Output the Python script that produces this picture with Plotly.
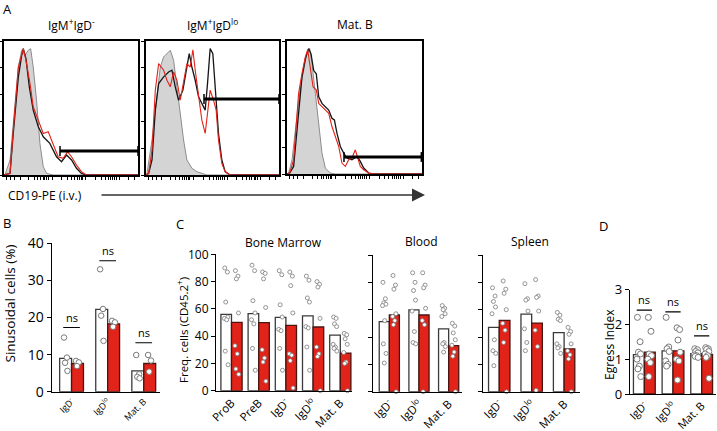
import plotly.graph_objects as go
import numpy as np

W, H = 717, 431
FONT = "Open Sans"
RED = "#e2231a"
DOTLINE = "#7a7a7a"

# ---------------- Panel A histogram data (x: % of axis, y: % of max) -------------
a1_gray_x = [0, 0.7, 4.5, 8.2, 10.7, 13.2, 15.6, 18.1, 19.9, 21.8, 24.3, 26.8, 29.3, 31.8, 36.7, 100]
a1_gray_y = [0, 0, 11.2, 55.8, 80.6, 93.1, 89.3, 93.1, 94.3, 80.6, 55.8, 23.6, 6.2, 1.2, 0, 0]
a1_black_x = [0, 4.5, 6.9, 10.7, 13.2, 14.4, 16.4, 18.9, 21.8, 25.6, 29.3, 34.2, 39.2, 42.9, 46.7, 50.4, 54.1, 57.8, 61.5, 100]
a1_black_y = [0, 1.2, 31.0, 73.2, 89.3, 94.3, 86.8, 65.8, 48.4, 36.0, 28.5, 23.6, 13.6, 9.9, 14.9, 11.2, 5.0, 1.2, 0, 0]
a1_red_x = [0, 4.5, 6.9, 10.7, 14.4, 16.4, 19.4, 21.8, 25.6, 29.3, 33.0, 36.7, 40.4, 44.2, 47.4, 50.4, 54.1, 57.8, 61.5, 100]
a1_red_y = [0, 1.2, 33.5, 80.6, 94.3, 85.6, 68.2, 50.9, 40.9, 31.0, 32.3, 23.6, 13.6, 12.4, 17.4, 13.6, 7.4, 2.5, 0, 0]

a2_gray_x = [0, 0.75, 4.5, 8.25, 10.75, 13.25, 15.75, 18.25, 20.75, 23.25, 25.75, 28.25, 30.75, 34.5, 38.25, 42, 45.75, 100]
a2_gray_y = [0, 1.2, 26.1, 60.8, 80.6, 88.1, 90.6, 93.1, 85.6, 65.8, 43.4, 26.1, 11.2, 5.0, 2.5, 1.2, 0, 0]
a2_black_x = [0, 2, 4.5, 7, 9.5, 13.25, 17, 19.5, 22, 24.5, 27.75, 30.75, 32.5, 34.5, 37, 39.5, 42, 44.5, 46.25, 48.25, 50.25, 52, 54.5, 57, 59.5, 63.25, 100]
a2_black_y = [0, 1.2, 11.2, 48.4, 68.2, 73.2, 76.9, 78.2, 65.8, 55.8, 63.3, 80.6, 90.6, 80.6, 70.7, 58.3, 53.3, 48.4, 68.2, 94.3, 90.6, 68.2, 31.0, 11.2, 2.5, 0, 0]
a2_red_x = [0, 2, 4.5, 7, 9.5, 13.25, 15.75, 18.25, 20.75, 23.25, 25.75, 28.25, 30.75, 33.25, 35.25, 37, 39.5, 42, 44.5, 46.25, 48.25, 50.75, 52.75, 54.5, 57, 59.5, 63.25, 100]
a2_red_y = [0, 1.2, 18.6, 63.3, 83.1, 78.2, 70.7, 65.8, 76.9, 70.7, 55.8, 68.2, 83.1, 80.6, 93.5, 78.2, 58.3, 40.9, 31.0, 48.4, 63.3, 55.8, 48.4, 26.1, 8.7, 2.5, 0, 0]

a3_gray_x = [0, 1.2, 3.7, 7.4, 9.9, 12.3, 14.8, 16.8, 18.5, 21.0, 23.5, 25.9, 28.4, 32.1, 35.8, 100]
a3_gray_y = [0, 0.7, 10.7, 43.1, 65.6, 78.1, 90.5, 94.3, 83.0, 60.6, 35.7, 15.7, 4.5, 0.7, 0, 0]
a3_black_x = [0, 2.0, 4.9, 8.6, 11.1, 13.6, 16.0, 17.8, 19.8, 21.7, 23.5, 25.9, 28.4, 30.9, 33.3, 35.1, 37.0, 39.5, 42.0, 44.4, 48.1, 51.9, 54.3, 56.8, 60.5, 64.2, 100]
a3_black_y = [0, 0.7, 5.7, 43.1, 73.1, 86.8, 94.3, 90.3, 77.8, 75.3, 58.1, 53.1, 50.6, 48.1, 41.9, 40.6, 30.7, 20.7, 15.7, 12.0, 10.7, 13.2, 9.5, 4.5, 0.7, 0, 0]
a3_red_x = [0, 2.0, 4.9, 8.6, 11.1, 13.6, 15.3, 17.3, 19.3, 21.7, 23.5, 25.9, 28.4, 30.9, 33.3, 35.8, 38.3, 40.7, 43.2, 45.7, 48.1, 50.6, 52.3, 54.3, 56.8, 60.5, 64.2, 100]
a3_red_y = [0, 0.7, 10.7, 60.6, 75.6, 88.0, 93.5, 80.5, 65.6, 63.1, 53.1, 50.6, 48.1, 45.6, 35.7, 28.2, 20.7, 8.2, 5.7, 10.7, 12.0, 18.2, 13.2, 5.7, 3.2, 0.7, 0, 0]

# gates: [start %, end %, level %]
a1_gate = [41.8, 100, 17.9]
a2_gate = [43.6, 100, 56.7]
a3_gate = [42.2, 99.5, 12.8]

a_titles = ["IgM<sup>+</sup>IgD<sup>-</sup>", "IgM<sup>+</sup>IgD<sup>lo</sup>", "Mat. B"]

# ---------------- Panel B ----------------
b_cats = ["IgD<sup>-</sup>", "IgD<sup>lo</sup>", "Mat. B"]
b_white = [9.0, 22.2, 5.6]
b_red = [7.6, 18.3, 7.6]
b_white_pts = [[14.6, 9.2, 7.8, 5.6], [33.0, 22.3, 20.5, 13.7], [9.9, 4.7, 4.0, 3.6]]
b_red_pts = [[8.3, 7.9, 6.9], [19.1, 18.7, 17.5], [9.9, 8.4, 5.4]]
b_ns = [17.3, 35.3, 13.2]

# ---------------- Panel C ----------------
bm_cats = ["ProB", "PreB", "IgD<sup>-</sup>", "IgD<sup>lo</sup>", "Mat. B"]
bm_white = [56.0, 56.5, 53.8, 54.8, 40.8]
bm_red = [50.1, 49.9, 47.9, 46.7, 27.6]
bm_white_pts = [[90, 87, 65, 54, 53, 52, 29, 19], [92, 88, 66, 57, 52, 49, 31, 15],
                [88, 85, 63, 54, 45, 44, 31, 15], [84, 81, 68, 65, 47, 46, 32, 15],
                [54, 53, 49, 47, 34, 32, 31, 29]]
bm_red_pts = [[88, 84, 82, 57, 33, 27, 16, 12], [87, 86, 82, 61, 30, 24, 21, 7],
              [87, 84, 77, 57, 27, 26, 22, 2], [80, 78, 76, 53, 32, 27, 25, 0],
              [42, 41, 38, 34, 28, 21, 20, 0]]

bl_cats = ["IgD<sup>-</sup>", "IgD<sup>lo</sup>", "Mat. B"]
bl_white = [51.2, 59.8, 45.9]
bl_red = [56.1, 56.1, 33.7]
bl_white_pts = [[80, 68, 65, 64, 63, 52, 35, 28, 21], [87, 80, 74, 67, 59, 44, 36, 35],
                [63, 61, 60, 57, 55, 36, 35, 33, 29]]
bl_red_pts = [[85, 78, 75, 57, 55, 52, 49, 0], [87, 78, 76, 61, 52, 49, 0],
              [50, 48, 43, 38, 34, 29, 26, 0]]

sp_cats = ["IgD<sup>-</sup>", "IgD<sup>lo</sup>", "Mat. B"]
sp_white = [47.1, 56.8, 43.2]
sp_red = [52.2, 50.2, 31.3]
sp_white_pts = [[76, 70, 66, 62, 57, 38, 30, 28, 19], [79, 68, 67, 59, 46, 36, 30],
                [58, 56, 53, 52, 35, 33, 32, 28]]
sp_red_pts = [[81, 75, 72, 60, 50, 45, 36, 0], [82, 70, 69, 59, 45, 33, 1],
              [47, 44, 42, 35, 30, 27, 24, 0]]

# ---------------- Panel D ----------------
d_cats = ["IgD<sup>-</sup>", "IgD<sup>lo</sup>", "Mat. B"]
d_white = [1.13, 1.24, 1.16]
d_red = [1.20, 1.24, 1.14]
d_white_pts = [[2.2, 1.5, 1.2, 1.15, 1.0, 0.8, 0.72, 0.5], [2.2, 1.35, 1.3, 1.22, 0.95, 0.85, 0.8],
               [1.3, 1.27, 1.22, 1.18, 1.12, 1.1, 1.08, 1.05]]
d_red_pts = [[2.2, 1.8, 1.15, 1.1, 1.0, 0.9, 0.5], [1.9, 1.85, 1.55, 1.2, 1.0, 0.95, 0.4],
             [1.33, 1.3, 1.28, 1.22, 1.15, 1.1, 1.05, 0.45]]
d_ns = [2.41, 2.36, 1.67]


def dx(a, b):
    return [a / W, b / W]


def dy(top, bottom):
    return [1 - bottom / H, 1 - top / H]


def ptext(txt, x, y, size, angle=0, xanchor="center"):
    return dict(text=txt, x=x / W, y=1 - y / H, xref="paper", yref="paper", showarrow=False,
                xanchor=xanchor, yanchor="middle", textangle=angle, font=dict(size=size))


fig = go.Figure()
layout = dict(width=W, height=H, margin=dict(l=0, r=0, t=0, b=0, pad=0, autoexpand=False),
              paper_bgcolor="white", plot_bgcolor="rgba(0,0,0,0)",
              showlegend=False, barmode="overlay",
              font=dict(family=FONT, color="black", size=12))
annotations = []
shapes = []

# ---------- Panel A ----------
hist_doms = [(dx(4, 138), dy(41, 175)), (dx(146, 279), dy(41, 175)), (dx(287, 422), dy(41, 174))]
hists = [
    (a1_gray_x, a1_gray_y, a1_black_x, a1_black_y, a1_red_x, a1_red_y, a1_gate),
    (a2_gray_x, a2_gray_y, a2_black_x, a2_black_y, a2_red_x, a2_red_y, a2_gate),
    (a3_gray_x, a3_gray_y, a3_black_x, a3_black_y, a3_red_x, a3_red_y, a3_gate),
]
# biexponential-looking tick positions (axis decoration)
log_ticks = []
for start, width in [(12, 22), (36, 24), (61, 24), (86, 24)]:
    for k in range(1, 10):
        p = start + width * np.log10(k)
        if p <= 100:
            log_ticks.append(p)
log_ticks = [2, 5, 8] + log_ticks

for i, ((xd, yd), h) in enumerate(zip(hist_doms, hists), start=1):
    gx, gy, bx, by, rx, ry, gate = h
    xa, ya = f"x{i}", f"y{i}"
    fig.add_trace(go.Scatter(x=gx, y=gy, mode="lines", fill="tozeroy", fillcolor="#d4d4d4",
                             line=dict(color="#8c8c8c", width=1), xaxis=xa, yaxis=ya))
    fig.add_trace(go.Scatter(x=bx, y=by, mode="lines", line=dict(color="#151515", width=1.3),
                             xaxis=xa, yaxis=ya))
    fig.add_trace(go.Scatter(x=rx, y=ry, mode="lines", line=dict(color=RED, width=1.1),
                             xaxis=xa, yaxis=ya))
    fig.add_trace(go.Scatter(x=[gate[0], gate[1]], y=[gate[2], gate[2]], mode="lines+markers",
                             line=dict(color="black", width=3),
                             marker=dict(symbol="line-ns", size=7, line=dict(color="black", width=1.5)),
                             xaxis=xa, yaxis=ya, cliponaxis=False))
    key = "" if i == 1 else str(i)
    layout[f"xaxis{key}"] = dict(domain=xd, range=[0, 100], anchor=ya, showline=True, mirror=True,
                                 linecolor="black", linewidth=1.5, showgrid=False, zeroline=False,
                                 ticks="outside", ticklen=3, tickwidth=1, tickcolor="black",
                                 tickvals=log_ticks, showticklabels=False, automargin=False)
    layout[f"yaxis{key}"] = dict(domain=yd, range=[0, 100], anchor=xa, showline=True, mirror=True,
                                 linecolor="black", linewidth=1.5, showgrid=False, zeroline=False,
                                 ticks="outside", ticklen=3, tickwidth=1, tickcolor="black",
                                 tickvals=[0, 20, 40, 60, 80, 100], showticklabels=False,
                                 automargin=False)
    cx = (xd[0] + xd[1]) / 2 * W
    annotations.append(ptext(a_titles[i - 1], cx, 25, 12))

annotations.append(ptext("CD19-PE (i.v.)", 6, 195, 12, xanchor="left"))
annotations.append(dict(text="", x=425 / W, y=1 - 195 / H, xref="paper", yref="paper",
                        ax=-325, ay=0, axref="pixel", ayref="pixel",
                        showarrow=True, arrowhead=2, arrowsize=2.0, arrowwidth=1.3, arrowcolor="#333"))


# ---------- bar panels ----------
JIT = [-0.06, 0.05, -0.02, 0.07, -0.08, 0.02, -0.04, 0.08, 0.0]


def bar_panel(idx, xd, yd, xr, yr, cats, white, red, wpts, rpts, w, dot_size, dot_lw,
              ytickvals, ylabels, ylab_size, xlab_size, ns=None):
    xa, ya = f"x{idx}", f"y{idx}"
    pos = list(range(len(cats)))
    fig.add_trace(go.Bar(x=pos, y=white, width=w, offset=-w, marker=dict(color="white",
                         line=dict(color="#3a3a3a", width=1.3)), xaxis=xa, yaxis=ya))
    fig.add_trace(go.Bar(x=pos, y=red, width=w, offset=0, marker=dict(color=RED,
                         line=dict(color="#4a1410", width=1.3)), xaxis=xa, yaxis=ya))
    for g in pos:
        for pts, center in ((wpts[g], g - w / 2), (rpts[g], g + w / 2)):
            xs = [center + JIT[k % len(JIT)] * w * 2.2 for k in range(len(pts))]
            fig.add_trace(go.Scatter(x=xs, y=pts, mode="markers", cliponaxis=False,
                                     marker=dict(size=dot_size, color="white",
                                                 line=dict(color=DOTLINE, width=dot_lw)),
                                     xaxis=xa, yaxis=ya))
    layout[f"xaxis{idx}"] = dict(domain=xd, range=xr, anchor=ya, showline=True, linecolor="black",
                                 linewidth=1.2, showgrid=False, zeroline=False, ticks="",
                                 tickvals=pos, ticktext=cats, tickangle=-45,
                                 tickfont=dict(size=xlab_size), automargin=False)
    layout[f"yaxis{idx}"] = dict(domain=yd, range=yr, anchor=xa, showline=True, linecolor="black",
                                 linewidth=1.2, showgrid=False, zeroline=False, ticks="outside",
                                 ticklen=4, tickwidth=1.2, tickcolor="black", tickvals=ytickvals,
                                 showticklabels=ylabels, tickfont=dict(size=ylab_size),
                                 automargin=False)
    if ns is not None:
        for g, lvl in zip(pos, ns):
            shapes.append(dict(type="line", xref=xa, yref=ya, x0=g - w * 0.7, x1=g + w * 0.7,
                               y0=lvl, y1=lvl, line=dict(color="black", width=1.2)))
            annotations.append(dict(text="ns", x=g, y=lvl, xref=xa, yref=ya, showarrow=False,
                                    yanchor="bottom", xanchor="center", yshift=1,
                                    font=dict(size=11)))


bar_panel(4, dx(51.7, 160), dy(243.3, 391.7), [-0.55, 2.45], [0, 40], b_cats, b_white, b_red,
          b_white_pts, b_red_pts, 0.33, 5.5, 1, [0, 10, 20, 30, 40], True, 14, 9, ns=b_ns)
bar_panel(5, dx(216, 352), dy(254.3, 390.7), [-0.57, 4.43], [0, 100], bm_cats, bm_white, bm_red,
          bm_white_pts, bm_red_pts, 0.39, 4, 0.8, [0, 20, 40, 60, 80, 100], True, 12, 11.5)
bar_panel(6, dx(373, 462), dy(255, 391.7), [-0.55, 2.45], [0, 100], bl_cats, bl_white, bl_red,
          bl_white_pts, bl_red_pts, 0.34, 4, 0.8, [0, 20, 40, 60, 80, 100], False, 12, 11.5)
bar_panel(7, dx(482.7, 580), dy(255, 391.7), [-0.51, 2.49], [0, 100], sp_cats, sp_white, sp_red,
          sp_white_pts, sp_red_pts, 0.33, 4, 0.8, [0, 20, 40, 60, 80, 100], False, 12, 11.5)
bar_panel(8, dx(630, 716), dy(289.5, 394), [-0.5, 2.5], [0, 3], d_cats, d_white, d_red,
          d_white_pts, d_red_pts, 0.38, 6, 1, [0, 1, 2, 3], True, 13, 11, ns=d_ns)

# panel titles and letters
for txt, x, y in [("Bone Marrow", 283, 243), ("Blood", 421, 241), ("Spleen", 530, 241)]:
    annotations.append(ptext(txt, x, y, 12))
for txt, x, y in [("A", 1, 9), ("B", 1, 223), ("C", 174, 224), ("D", 597, 226)]:
    annotations.append(ptext(txt, x, y, 13, xanchor="left"))
# y axis titles
annotations.append(ptext("Sinusoidal cells (%)", 9.5, 304, 13.5, angle=-90))
annotations.append(ptext("Freq. cells (CD45.2<sup>+</sup>)", 182, 330, 11.5, angle=-90))
annotations.append(ptext("Egress Index", 609, 345, 12, angle=-90))

layout["annotations"] = annotations
layout["shapes"] = shapes
fig.update_layout(**layout)
fig.write_html("out.html", config={"displayModeBar": False},
               post_script="document.body.style.margin='0';document.body.style.overflow='hidden';")
